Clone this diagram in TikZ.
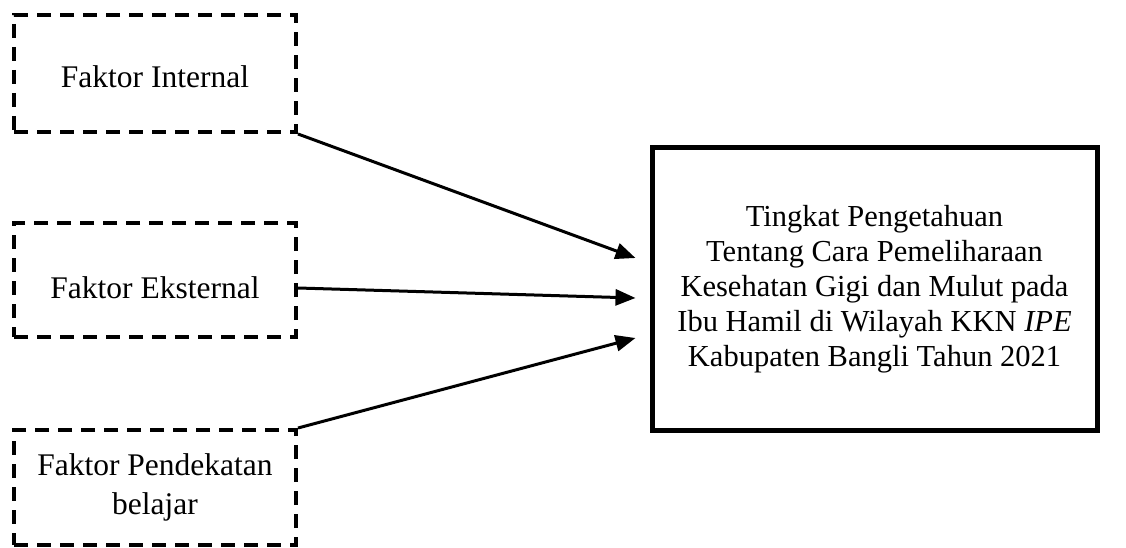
\documentclass[tikz,border=0pt]{standalone}
\usepackage{fontspec}
\setmainfont{Liberation Serif}
\usetikzlibrary{arrows.meta}
\begin{document}
\begin{tikzpicture}[x=1pt,y=-1pt,
  factorbox/.style={draw, line width=4pt, dash pattern=on 14pt off 9pt, minimum width=282pt, align=center, inner sep=0pt, font=\fontsize{31.5}{39}\selectfont},
  mainbox/.style={draw, line width=5pt, minimum width=445pt, minimum height=282pt, align=center, inner sep=0pt, font=\fontsize{30.5}{35}\selectfont},
  conn/.style={line width=3pt, -{Triangle[length=20pt,width=16pt]}}]
\useasboundingbox (0,0) rectangle (1126,548);
\node[factorbox, minimum height=117pt, text height=28pt, text depth=0pt] (b1) at (155,73.5) {Faktor Internal};
\node[factorbox, minimum height=114pt, text height=37pt, text depth=0pt] (b2) at (155,280) {Faktor Eksternal};
\node[factorbox, minimum height=115pt] (b3) at (155,487.5) {Faktor Pendekatan\\belajar};
\node[mainbox] (t) at (874.5,289) {Tingkat Pengetahuan\\Tentang Cara Pemeliharaan\\Kesehatan Gigi dan Mulut pada\\Ibu Hamil di Wilayah KKN \textit{IPE}\\Kabupaten Bangli Tahun 2021};
\coordinate (b2out) at ([yshift=-8pt]b2.east);
\coordinate (t1) at ([xshift=-14pt,yshift=31pt]t.west);
\coordinate (t2) at ([xshift=-14pt,yshift=-9pt]t.west);
\coordinate (t3) at ([xshift=-14pt,yshift=-49pt]t.west);
\draw[conn] (b1.south east) -- (t1);
\draw[conn] (b2out) -- (t2);
\draw[conn] (b3.north east) -- (t3);
\end{tikzpicture}
\end{document}
